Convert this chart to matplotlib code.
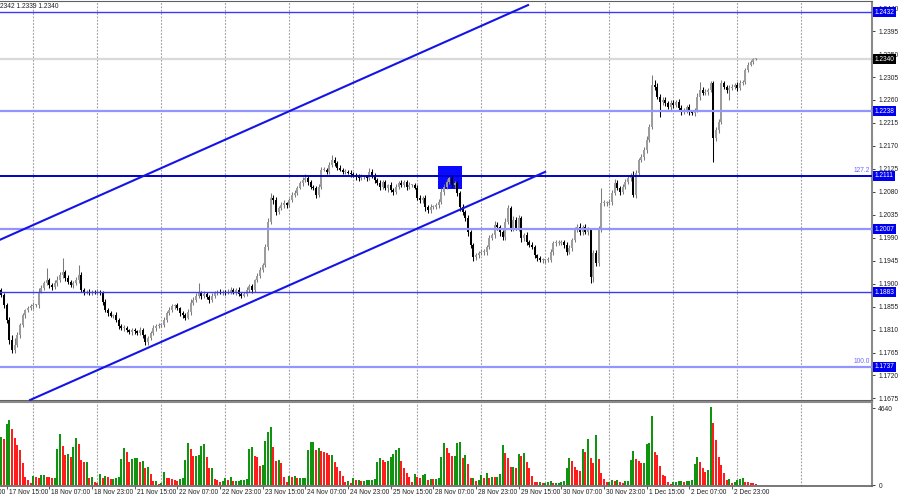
import matplotlib
matplotlib.use('Agg')
import matplotlib.pyplot as plt
from matplotlib.patches import Rectangle
from matplotlib.transforms import blended_transform_factory

plt.rcParams['font.family'] = ['Liberation Sans', 'DejaVu Sans']

# hourly candles (bar 0 = left edge)
first_open = 1.1888
closes = [
    1.1878, 1.1858, 1.1829, 1.1789, 1.1770, 1.1779, 1.1799, 1.1819, 1.1838, 1.1848,
    1.1852, 1.1856, 1.1858, 1.1858, 1.1884, 1.1892, 1.1901, 1.1907, 1.1897, 1.1894,
    1.1901, 1.1907, 1.1917, 1.1923, 1.1911, 1.1903, 1.1897, 1.1901, 1.1907, 1.1917,
    1.1888, 1.1882, 1.1884, 1.1882, 1.1884, 1.1882, 1.1884, 1.1882, 1.1864, 1.1848,
    1.1842, 1.1837, 1.1838, 1.1829, 1.1817, 1.1813, 1.1813, 1.1809, 1.1805, 1.1809,
    1.1807, 1.1803, 1.1809, 1.1799, 1.1785, 1.1793, 1.1803, 1.1813, 1.1817, 1.1819,
    1.1819, 1.1829, 1.1842, 1.1848, 1.1856, 1.1858, 1.1852, 1.1842, 1.1838, 1.1833,
    1.1844, 1.1862, 1.1868, 1.1876, 1.1882, 1.1876, 1.1880, 1.1874, 1.1868, 1.1876,
    1.1882, 1.1884, 1.1882, 1.1884, 1.1882, 1.1884, 1.1888, 1.1884, 1.1888, 1.1880,
    1.1876, 1.1880, 1.1888, 1.1895, 1.1888, 1.1907, 1.1915, 1.1927, 1.1936, 1.1972,
    1.2021, 1.2068, 1.2064, 1.2041, 1.2048, 1.2054, 1.2058, 1.2054, 1.2064, 1.2074,
    1.2078, 1.2088, 1.2097, 1.2103, 1.2107, 1.2099, 1.2090, 1.2088, 1.2074, 1.2090,
    1.2123, 1.2123, 1.2119, 1.2133, 1.2142, 1.2137, 1.2127, 1.2123, 1.2119, 1.2119,
    1.2117, 1.2115, 1.2113, 1.2109, 1.2107, 1.2109, 1.2109, 1.2107, 1.2119, 1.2113,
    1.2103, 1.2097, 1.2090, 1.2099, 1.2088, 1.2093, 1.2084, 1.2080, 1.2090, 1.2097,
    1.2093, 1.2099, 1.2090, 1.2093, 1.2093, 1.2088, 1.2068, 1.2064, 1.2068, 1.2050,
    1.2044, 1.2050, 1.2050, 1.2054, 1.2060, 1.2080, 1.2090, 1.2099, 1.2107, 1.2093,
    1.2097, 1.2078, 1.2050, 1.2041, 1.2029, 1.2001, 1.1976, 1.1952, 1.1956, 1.1960,
    1.1962, 1.1962, 1.1972, 1.1989, 1.1995, 1.2015, 1.2011, 1.2001, 1.1991, 1.2021,
    1.2048, 1.2009, 1.2025, 1.2009, 1.2029, 1.1989, 1.1995, 1.1982, 1.1976, 1.1972,
    1.1956, 1.1950, 1.1946, 1.1946, 1.1946, 1.1946, 1.1962, 1.1980, 1.1980, 1.1980,
    1.1982, 1.1976, 1.1962, 1.1970, 1.1986, 1.2005, 1.2011, 1.2001, 1.2011, 1.2001,
    1.2005, 1.1913, 1.1960, 1.1940, 1.2005, 1.2058, 1.2058, 1.2058, 1.2060, 1.2078,
    1.2097, 1.2088, 1.2080, 1.2090, 1.2099, 1.2107, 1.2113, 1.2074, 1.2117, 1.2142,
    1.2148, 1.2162, 1.2182, 1.2207, 1.2290, 1.2286, 1.2266, 1.2256, 1.2260, 1.2254,
    1.2246, 1.2254, 1.2250, 1.2256, 1.2244, 1.2236, 1.2240, 1.2246, 1.2236, 1.2234,
    1.2240, 1.2266, 1.2280, 1.2274, 1.2276, 1.2280, 1.2293, 1.2185, 1.2201, 1.2217,
    1.2293, 1.2286, 1.2280, 1.2284, 1.2286, 1.2290, 1.2284, 1.2293, 1.2295, 1.2319,
    1.2329, 1.2334, 1.2340, 1.2340,
]
# wicks beyond the body, in pips
up_wick = [
    4, 3, 5, 6, 10, 15, 6, 4, 5, 3, 4, 5, 6, 3, 8, 6, 5, 24, 4, 5,
    6, 8, 5, 27, 4, 6, 5, 4, 6, 20, 5, 4, 3, 5, 4, 3, 6, 4, 3, 5,
    4, 5, 3, 6, 4, 3, 5, 4, 3, 4, 5, 3, 6, 4, 3, 5, 4, 6, 3, 4,
    3, 5, 4, 6, 5, 3, 4, 3, 5, 4, 6, 8, 5, 6, 20, 4, 6, 3, 4, 5,
    4, 3, 5, 4, 3, 5, 6, 4, 3, 5, 4, 3, 6, 4, 5, 3, 6, 5, 4, 6,
    8, 10, 6, 5, 4, 6, 5, 3, 4, 6, 5, 4, 5, 6, 7, 4, 5, 4, 3, 6,
    5, 6, 4, 5, 10, 6, 4, 5, 3, 6, 4, 5, 3, 4, 5, 6, 4, 3, 8, 5,
    4, 5, 6, 4, 5, 3, 6, 4, 5, 4, 6, 5, 4, 6, 3, 4, 5, 6, 4, 5,
    4, 6, 5, 4, 6, 7, 5, 6, 6, 5, 4, 5, 4, 6, 3, 5, 4, 3, 5, 4,
    6, 5, 4, 6, 5, 8, 6, 4, 5, 8, 6, 4, 8, 5, 6, 4, 5, 6, 4, 5,
    4, 3, 5, 4, 3, 6, 5, 4, 6, 5, 4, 3, 5, 6, 4, 6, 5, 8, 4, 6,
    6, 4, 5, 6, 8, 30, 5, 4, 6, 5, 8, 6, 4, 5, 6, 5, 4, 8, 6, 5,
    6, 5, 8, 6, 19, 10, 8, 6, 5, 6, 4, 5, 6, 4, 5, 6, 5, 4, 6, 5,
    4, 8, 15, 6, 5, 4, 5, 4, 6, 5, 6, 5, 4, 6, 5, 4, 5, 6, 5, 4,
    5, 4, 3, 2,
]
dn_wick = [
    4, 5, 6, 8, 6, 5, 4, 6, 3, 5, 4, 3, 5, 4, 6, 3, 5, 4, 5, 6,
    4, 5, 3, 6, 5, 4, 3, 5, 4, 6, 5, 4, 3, 4, 5, 3, 4, 5, 6, 4,
    5, 3, 4, 5, 6, 4, 5, 3, 4, 6, 5, 4, 3, 5, 6, 5, 4, 3, 5, 4,
    4, 3, 5, 4, 3, 5, 4, 6, 5, 4, 3, 5, 4, 3, 5, 6, 4, 5, 6, 4,
    5, 4, 3, 5, 4, 3, 5, 4, 6, 5, 4, 3, 5, 4, 6, 5, 4, 3, 5, 4,
    6, 5, 8, 6, 5, 4, 6, 5, 4, 3, 5, 4, 3, 5, 4, 6, 5, 4, 6, 5,
    4, 3, 5, 4, 5, 6, 4, 3, 5, 4, 3, 5, 4, 6, 5, 4, 3, 5, 4, 6,
    5, 4, 6, 5, 4, 8, 5, 6, 4, 5, 3, 4, 6, 5, 4, 3, 5, 6, 5, 8,
    6, 5, 4, 3, 5, 4, 6, 5, 4, 3, 5, 6, 8, 6, 7, 8, 6, 8, 5, 6,
    4, 5, 6, 5, 4, 6, 5, 8, 6, 5, 4, 6, 5, 4, 6, 8, 5, 6, 4, 5,
    6, 5, 4, 6, 5, 3, 4, 5, 6, 4, 5, 6, 5, 4, 6, 5, 4, 5, 6, 4,
    5, 12, 10, 6, 5, 4, 6, 5, 4, 6, 5, 4, 6, 5, 4, 3, 5, 4, 6, 5,
    4, 5, 6, 5, 4, 6, 5, 30, 6, 5, 4, 6, 5, 4, 6, 5, 4, 6, 5, 4,
    5, 4, 6, 5, 4, 6, 5, 47, 6, 5, 4, 5, 6, 20, 5, 4, 6, 5, 4, 3,
    4, 3, 3, 2,
]
volumes = [
    2900, 2750, 3680, 3920, 3360, 2810, 2410, 2110, 1300, 500,
    300, 140, 540, 500, 440, 620, 620, 500, 460, 400,
    420, 2150, 3100, 2350, 1800, 1850, 1670, 2270, 2810, 2450,
    1500, 1370, 1410, 400, 460, 200, 100, 660, 400, 540,
    500, 360, 380, 420, 500, 1550, 2210, 2010, 1410, 1550,
    1610, 1630, 1410, 1470, 1000, 1100, 660, 240, 260, 60,
    100, 760, 440, 400, 360, 320, 240, 360, 440, 1510,
    2550, 2150, 1750, 1750, 1810, 2350, 2450, 1670, 1030, 1050,
    340, 300, 200, 220, 440, 300, 500, 220, 220, 220,
    280, 300, 340, 2150, 2310, 1750, 1710, 1170, 1210, 2650,
    3180, 3480, 2310, 1470, 1510, 1310, 480, 200, 540, 460,
    540, 400, 400, 400, 400, 2110, 2570, 2570, 2110, 2210,
    2050, 2010, 1910, 1810, 1810, 1370, 1100, 840, 540, 160,
    240, 100, 400, 300, 300, 260, 260, 300, 300, 300,
    340, 1410, 1610, 1510, 1370, 1450, 1670, 1870, 2110, 2250,
    1450, 1000, 740, 500, 200, 660, 460, 400, 600, 660,
    300, 380, 360, 380, 400, 1670, 2550, 2210, 1910, 1750,
    1750, 2510, 2590, 1610, 1810, 1250, 400, 400, 260, 300,
    600, 420, 700, 420, 500, 460, 460, 640, 2390, 1910,
    1610, 1100, 1100, 1050, 1870, 1750, 1950, 1410, 1050, 540,
    200, 160, 160, 100, 140, 200, 240, 140, 140, 140,
    200, 240, 1000, 1610, 1450, 1100, 900, 840, 2170, 2010,
    2750, 1650, 1350, 3020, 1550, 740, 340, 200, 200, 300,
    240, 300, 180, 140, 240, 240, 1510, 2050, 1550, 1470,
    1350, 1350, 2450, 2510, 4180, 2010, 1810, 1170, 600, 540,
    200, 60, 160, 200, 240, 240, 200, 220, 240, 300,
    1250, 1710, 1410, 1050, 800, 900, 4680, 3760, 2710, 1710,
    1210, 700, 300, 380, 100, 200, 300, 360, 400, 200,
    180, 140, 100, 60,
]

time_labels = ['16 Nov 23:00', '17 Nov 15:00', '18 Nov 07:00', '18 Nov 23:00', '21 Nov 15:00',
               '22 Nov 07:00', '22 Nov 23:00', '23 Nov 15:00', '24 Nov 07:00', '24 Nov 23:00',
               '25 Nov 15:00', '28 Nov 07:00', '28 Nov 23:00', '29 Nov 15:00', '30 Nov 07:00',
               '30 Nov 23:00', '1 Dec 15:00', '2 Dec 07:00', '2 Dec 23:00']
price_ticks = [1.2440, 1.2395, 1.2350, 1.2305, 1.2260, 1.2215, 1.2170, 1.2125, 1.2080,
               1.2035, 1.1990, 1.1945, 1.1900, 1.1855, 1.1810, 1.1765, 1.1720, 1.1675]
levels = [1.2432, 1.2238, 1.2111, 1.2007, 1.1883, 1.1737]
level_colors = ['#3a3aff', '#9494ff', '#0000c8', '#9494ff', '#3a3aff', '#9494ff']
level_widths = [1.0, 1.6, 1.4, 1.6, 1.0, 1.6]
fib_marks = {1.2111: '127.2', 1.1737: '100.0'}
bid = 1.2340
# channel anchors: (bar, price)
upper_channel = [(-0.5, 1.1986), (197.5, 1.2446)]
lower_channel = [(10.8, 1.1672), (203.9, 1.2119)]
box_bars = (163.7, 172.7)
box_prices = (1.2086, 1.2131)

n = len(closes)
bars = list(range(n))
opens = [first_open] + closes[:-1]
highs = [max(o, c) + u * 0.0001 for o, c, u in zip(opens, closes, up_wick)]
lows = [min(o, c) - d * 0.0001 for o, c, d in zip(opens, closes, dn_wick)]

fig = plt.figure(figsize=(9, 5), dpi=100)
ax = fig.add_axes([0, 0.198, 0.969, 0.799])
vax = fig.add_axes([0, 0.028, 0.969, 0.168])

for b in range(12, 301, 24):
    ax.axvline(b, color='#9a9a9a', ls=(0, (1.5, 1.5)), lw=0.8, zorder=0)
    vax.axvline(b, color='#9a9a9a', ls=(0, (1.5, 1.5)), lw=0.8, zorder=0)

ax.axhline(bid, color='#d9d9d9', lw=1.6, zorder=0.5)
ax.add_patch(Rectangle((box_bars[0], box_prices[0]), box_bars[1] - box_bars[0],
                       box_prices[1] - box_prices[0], fc='#0a0aff', ec='none', zorder=1))

bull = [c >= o for o, c in zip(opens, closes)]
wick_cols = ['#7a7a7a' if up else 'black' for up in bull]
body_cols = ['#9c9c9c' if up else 'black' for up in bull]
ax.vlines(bars, lows, highs, colors=wick_cols, lw=0.75, zorder=2)
heights = [max(abs(c - o), 0.00015) for o, c in zip(opens, closes)]
bottoms = [min(o, c) for o, c in zip(opens, closes)]
ax.bar(bars, heights, bottom=bottoms, width=0.8, color=body_cols, linewidth=0, zorder=2.2)

for lv, col, w in zip(levels, level_colors, level_widths):
    ax.axhline(lv, color=col, lw=w, zorder=3)
for ch in (upper_channel, lower_channel):
    ax.plot([p[0] for p in ch], [p[1] for p in ch], color='#1414e6', lw=1.5, zorder=3)

ax.set_xlim(-0.49, 326.5)
ax.set_ylim(1.1670, 1.2453)
ax.set_xticks([])
ax.yaxis.tick_right()
ax.set_yticks(price_ticks)
ax.set_yticklabels([f'{t:.4f}' for t in price_ticks])
ax.tick_params(axis='y', length=2.5, width=0.6, pad=2, labelsize=4.8, colors='#202020')
ax.spines['left'].set_visible(False)
ax.spines['top'].set_color('#606060')
ax.spines['right'].set_color('#8a8a8a')
ax.spines['right'].set_linewidth(1.5)
ax.spines['bottom'].set_color('#606060')
ax.spines['bottom'].set_linewidth(1.5)

tr = blended_transform_factory(ax.transAxes, ax.transData)
for lv in levels:
    ax.text(1.003, lv, f'{lv:.4f}', transform=tr, fontsize=4.7, color='white', va='center',
            ha='left', clip_on=False, zorder=5,
            bbox=dict(boxstyle='square,pad=0.25', fc='#0000f0', ec='none'))
ax.text(1.003, bid, f'{bid:.4f}', transform=tr, fontsize=4.7, color='white', va='center',
        ha='left', clip_on=False, zorder=5, bbox=dict(boxstyle='square,pad=0.25', fc='black', ec='none'))
for lv, lab in fib_marks.items():
    ax.text(0.998, lv + 0.0003, lab, transform=tr, fontsize=4.8, color='#6a6aff', ha='right', va='bottom')

vol_cols = ['#109410' if i == 0 or volumes[i] >= volumes[i - 1] else '#ff1c1c' for i in range(n)]
vax.bar(bars, volumes, width=0.75, color=vol_cols, linewidth=0, zorder=2)
vax.set_xlim(-0.49, 326.5)
vax.set_ylim(-60, 5005)
vax.yaxis.tick_right()
vax.set_yticks([0, 4640])
vax.set_yticklabels(['0', '4640'])
vax.tick_params(axis='y', length=2.5, width=0.6, pad=2, labelsize=4.8, colors='#202020')
label_bars = [-14 + 16 * k for k in range(len(time_labels))]
vax.set_xticks(label_bars[1:])
vax.set_xticklabels([])
vax.tick_params(axis='x', length=2, width=0.6, colors='#404040')
vax.spines['left'].set_visible(False)
vax.spines['top'].set_color('#8a8a8a')
vax.spines['top'].set_linewidth(1.5)
vax.spines['right'].set_color('#8a8a8a')
vax.spines['right'].set_linewidth(1.5)
vax.spines['bottom'].set_color('#606060')
vax.spines['bottom'].set_linewidth(1.2)

trx = blended_transform_factory(vax.transData, vax.transAxes)
for b, lab in zip(label_bars, time_labels):
    vax.text(b + 0.7, -0.075, lab, transform=trx, fontsize=4.8, color='#202020',
             ha='left', va='center', clip_on=False)

fig.text(0.0, 0.986, '2342 1.2339 1.2340', fontsize=4.8, color='#202020', va='center', ha='left')

fig.savefig('out.png', dpi=100, facecolor='white')
